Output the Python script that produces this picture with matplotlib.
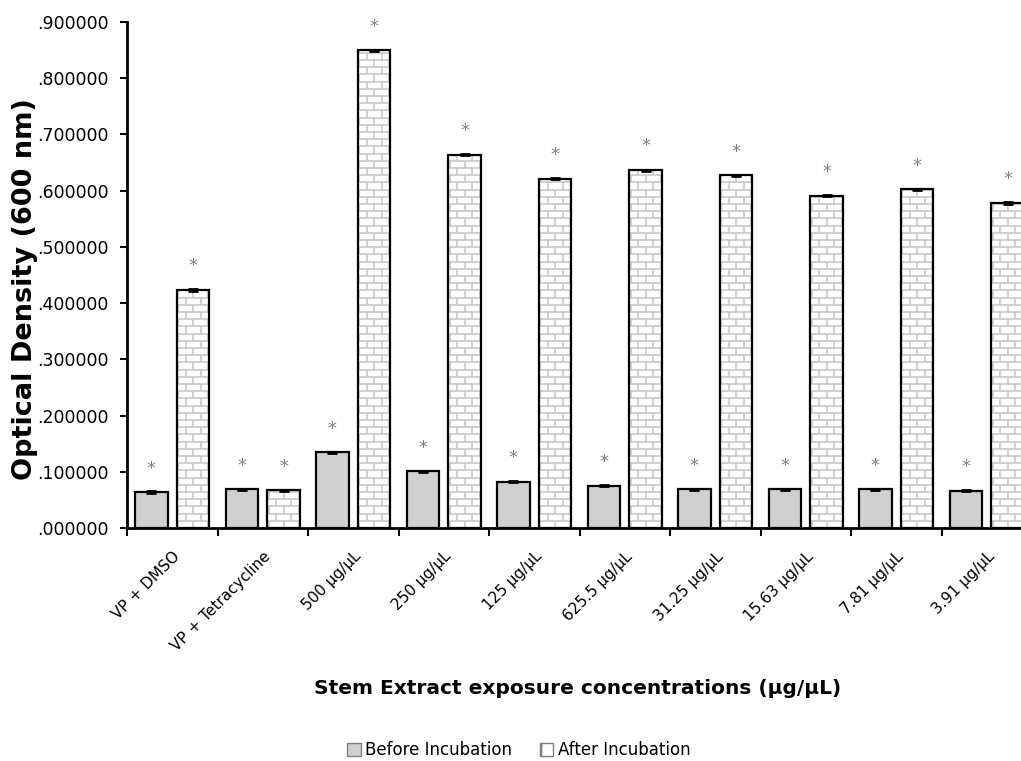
import matplotlib
matplotlib.use('Agg')
import matplotlib.pyplot as plt
import numpy as np
from matplotlib.collections import LineCollection
from matplotlib.patches import Patch
from matplotlib.ticker import FuncFormatter, MultipleLocator

# --- data ---
categories = ['VP + DMSO', 'VP + Tetracycline', '500 µg/µL', '250 µg/µL', '125 µg/µL',
              '625.5 µg/µL', '31.25 µg/µL', '15.63 µg/µL', '7.81 µg/µL', '3.91 µg/µL']
before = [0.0635, 0.0688, 0.1345, 0.1007, 0.0824, 0.0755, 0.0690, 0.0685, 0.0685, 0.0665]
after = [0.4235, 0.0670, 0.8495, 0.6635, 0.6210, 0.6365, 0.6270, 0.5910, 0.6020, 0.5780]
before_err = [0.0015, 0.0008, 0.0015, 0.0005, 0.0012, 0.0010, 0.0008, 0.0008, 0.0010, 0.0008]
after_err = [0.0012, 0.0008, 0.0008, 0.0010, 0.0008, 0.0010, 0.0010, 0.0010, 0.0012, 0.0010]
series_names = ['Before Incubation', 'After Incubation']

plt.rcParams['font.family'] = ['DejaVu Sans']
plt.rcParams['hatch.color'] = '#c4c4c4'

fig = plt.figure(figsize=(10.21, 7.61), dpi=100)
ax = fig.add_axes([0.1244, 0.3062, 0.8864, 0.6650])

x = np.arange(len(categories))
w = 0.36
off = 0.23
ax.set_xlim(-0.5, len(categories) - 0.5)
ax.set_ylim(0, 0.9)

gray = '#d0d0d0'
ax.bar(x - off, before, w, color=gray, edgecolor='black', linewidth=1.6, zorder=2)
ax.errorbar(x - off, before, yerr=before_err, fmt='none', ecolor='black',
            elinewidth=1.5, capsize=3.5, capthick=2, zorder=4)

# after bars: white face, brick pattern, black outline on top
face = ax.bar(x + off, after, w, color='white', edgecolor='none', zorder=2)
ax.bar(x + off, after, w, color='none', edgecolor='black', linewidth=1.6, zorder=3)
ax.errorbar(x + off, after, yerr=after_err, fmt='none', ecolor='black',
            elinewidth=1.5, capsize=3.5, capthick=2, zorder=4)


def add_bricks(ax, rect, bh_px=7.2, bw_px=15.0, color='#c8c8c8'):
    sx = (ax.get_xlim()[1] - ax.get_xlim()[0]) / ax.bbox.width
    sy = (ax.get_ylim()[1] - ax.get_ylim()[0]) / ax.bbox.height
    bh, bw = bh_px * sy, bw_px * sx
    x0, rw, h = rect.get_x(), rect.get_width(), rect.get_height()
    cx = x0 + rw / 2
    segs = []
    nrows = int(np.ceil(h / bh))
    for r in range(nrows):
        lo, hi = r * bh, min((r + 1) * bh, h)
        segs.append([(x0, hi), (x0 + rw, hi)])
        start = cx + (bw / 2 if r % 2 else 0)
        for k in range(-4, 5):
            xv = start + k * bw
            if x0 < xv < x0 + rw:
                segs.append([(xv, lo), (xv, hi)])
    lc = LineCollection(segs, colors=color, linewidths=1.2, zorder=2.5)
    lc.set_clip_path(rect)
    ax.add_collection(lc)


for rect in face:
    add_bricks(ax, rect)

# significance stars
for xi, b, a in zip(x, before, after):
    ax.text(xi - off, b + 0.042, '*', ha='center', va='center', color='#808080', fontsize=13)
    ax.text(xi + off, a + 0.042, '*', ha='center', va='center', color='#808080', fontsize=13)

# axes styling
for s in ['top', 'right']:
    ax.spines[s].set_visible(False)
for s in ['left', 'bottom']:
    ax.spines[s].set_linewidth(2)

ax.yaxis.set_major_locator(MultipleLocator(0.1))
ax.yaxis.set_major_formatter(FuncFormatter(lambda v, p: f'{v:.6f}'.lstrip('0')))
ax.tick_params(axis='y', direction='out', length=5, width=1.5, labelsize=12.5, pad=8)

ax.set_xticks(x)
ax.set_xticklabels(categories, rotation=45, ha='right', rotation_mode='anchor', fontsize=11)
ax.set_xticks(np.arange(len(categories) + 1) - 0.5, minor=True)
ax.tick_params(axis='x', which='major', length=0, pad=15)
ax.tick_params(axis='x', which='minor', direction='out', length=6, width=1.5)

fig.text(0.024, 1 - 289 / 761, 'Optical Density (600 nm)', rotation=90, ha='center',
         va='center', fontsize=19.5, fontweight='bold')
fig.text(578 / 1021, 1 - 688 / 761, 'Stem Extract exposure concentrations (µg/µL)',
         ha='center', va='center', fontsize=14.5, fontweight='bold')

handles = [Patch(facecolor=gray, edgecolor='#808080'),
           Patch(facecolor='white', edgecolor='#808080', hatch='+')]
fig.legend(handles, series_names, loc='center', bbox_to_anchor=(0.508, 1 - 750 / 761),
           ncol=2, frameon=False, fontsize=12, handlelength=0.8, handleheight=0.8,
           handletextpad=0.25, columnspacing=1.7)

fig.savefig('out.png', dpi=100)
plt.close(fig)
